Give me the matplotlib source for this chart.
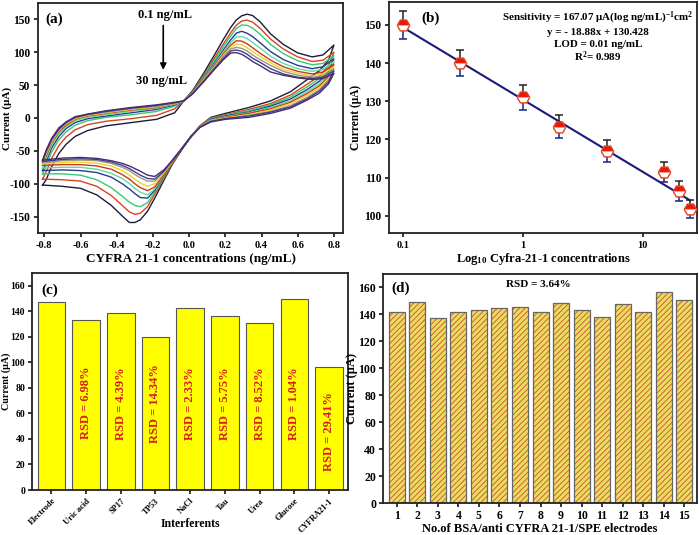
import numpy as np
import matplotlib
matplotlib.use('Agg')
import matplotlib.pyplot as plt
from matplotlib.ticker import FixedLocator, NullLocator, FixedFormatter

plt.rcParams['font.family'] = ['Liberation Serif', 'DejaVu Serif']
plt.rcParams['font.weight'] = 'bold'
plt.rcParams['axes.labelweight'] = 'bold'
plt.rcParams['axes.unicode_minus'] = False
plt.rcParams['mathtext.fontset'] = 'custom'
plt.rcParams['mathtext.rm'] = 'Liberation Serif:bold'
plt.rcParams['mathtext.it'] = 'Liberation Serif:bold:italic'
plt.rcParams['mathtext.bf'] = 'Liberation Serif:bold'
plt.rcParams['hatch.linewidth'] = 0.6

# ---------------- (a) cyclic voltammograms ----------------
EF = [-0.81, -0.79, -0.76, -0.72, -0.68, -0.63, -0.56, -0.46, -0.32, -0.18, -0.08, -0.03,
      0.02, 0.08, 0.14, 0.19, 0.23, 0.26, 0.29, 0.32, 0.35, 0.39, 0.45, 0.52, 0.60, 0.68, 0.74, 0.80]
cv_forward = [
    [-102, -94, -74, -54, -40, -28, -19, -12, -7, -2, 8, 26,
     42, 68, 96, 120, 138, 149, 155.5, 158, 156, 147, 128, 112, 99, 93, 96, 111],
    [-93, -82, -62, -42, -29, -18, -10, -5, -1, 4, 14, 26,
     41, 65, 91, 113, 130, 141, 147.5, 149, 146, 137, 120, 105, 93, 86, 88, 100],
    [-85, -72, -52, -33, -21, -11, -4, 1, 5, 10, 18, 26,
     40, 63, 88, 109, 125, 136, 141.5, 141, 137, 128, 112, 98, 87, 81, 83, 95],
    [-80, -66, -46, -28, -16, -7, -1, 3, 8, 13, 20, 26,
     40, 61, 84, 104, 119, 129, 132, 129, 124, 115, 101, 89, 80, 75, 78, 90],
    [-76, -62, -42, -24, -13, -4, 1, 5, 10, 15, 21, 26,
     39, 60, 82, 101, 115, 123, 124, 121, 115, 107, 94, 83, 75, 71, 74, 86],
    [-72, -58, -39, -21, -11, -2, 3, 7, 12, 16, 22, 26,
     39, 59, 80, 98, 111, 117.5, 117, 113, 107, 99, 88, 78, 71, 67, 70, 82],
    [-70, -55, -37, -19, -9, -1, 4, 8, 13, 17, 22, 26,
     38, 58, 78, 96, 108, 112.5, 111.5, 107, 101, 94, 84, 74, 68, 64, 67, 78],
    [-68, -53, -35, -18, -8, 0, 5, 9, 14, 18, 23, 26,
     38, 57, 77, 94, 105, 107.5, 106, 102, 96, 89, 80, 71, 65, 62, 64, 75],
    [-66, -51, -33, -17, -7, 1, 5.5, 10, 15, 19, 23, 26,
     37, 56, 75, 91, 102, 103.5, 101.5, 97, 91, 85, 75, 67, 62, 60, 62, 72],
    [-64, -49, -31, -15, -6, 2, 6, 11, 16, 20, 24, 26,
     37, 55, 74, 89, 99, 99.5, 97, 92, 86, 80, 70, 65, 61, 58.5, 60, 68],
]
ER = [0.80, 0.77, 0.72, 0.65, 0.56, 0.45, 0.33, 0.20, 0.12, 0.06, 0.01, -0.04, -0.09,
      -0.14, -0.19, -0.23, -0.27, -0.30, -0.33, -0.37, -0.43, -0.51, -0.60, -0.70, -0.81]
cv_reverse = [
    [111, 88, 72, 58, 40, 26, 16, 7, 1, -12, -28, -48, -69, -95, -122, -142, -155, -159, -159, -149, -133, -117, -107, -104, -102],
    [100, 80, 64, 51, 35, 22, 13, 5, 0, -12, -28, -47, -68, -92, -116, -135, -145, -146.5, -143, -133, -118, -104, -96, -94, -93],
    [95, 75, 60, 47, 32, 20, 11, 4, -1, -13, -28, -47, -67, -90, -113, -129, -135, -133, -128, -119, -106, -94, -87, -85, -85],
    [90, 71, 56, 43, 29, 18, 9, 3, -2, -13, -28, -47, -67, -88, -110, -122, -121, -115, -108, -100, -90, -83, -80, -79, -80],
    [86, 67, 52, 40, 26, 16, 8, 2, -3, -13, -28, -46, -66, -87, -108, -117, -113, -107, -100, -92, -84, -78, -75, -75, -76],
    [82, 63, 49, 37, 24, 14, 7, 1, -4, -14, -28, -46, -66, -86, -105, -110.5, -106, -100, -93, -86, -78, -73, -71, -71, -72],
    [78, 60, 46, 34, 22, 12, 5, 0, -4, -14, -28, -46, -65, -84, -100, -104, -99, -93, -87, -80, -73, -69, -67, -68, -70],
    [75, 58, 43, 31, 19, 10, 4, -1, -5, -14, -28, -46, -64, -82, -96, -96, -91, -86, -80, -75, -69, -65, -64, -65, -68],
    [72, 55, 41, 29, 17, 9, 3, -1, -5, -14, -28, -46, -63, -81, -93, -92, -87, -82, -77, -72, -67, -63, -62, -63, -66],
    [68, 52, 38, 27, 15, 7, 1, -2, -6, -14, -29, -47, -64, -79, -89, -87, -81, -77, -73, -69, -65, -61.5, -60, -61, -64],
]
cv_colors = ['#1c1c3c', '#d6451e', '#35c977', '#2b3a8c', '#62dd98',
             '#c8391c', '#f3d12a', '#9c9a7c', '#3d3d9a', '#4b2b68']

# ---------------- (b) calibration ----------------
conc = [0.1, 0.3, 1, 2, 5, 15, 20, 25]
peak_current = [150, 140, 131, 123.3, 117, 111.5, 106.5, 101.8]
peak_err = [3.6, 3.4, 3.2, 3.0, 2.9, 2.7, 2.6, 2.3]
fit_slope, fit_intercept = -18.88, 130.428

# ---------------- (c) interferents ----------------
interferents = ['Electrode', 'Uric acid', 'SP17', 'TP53', 'NaCl', 'Tau', 'Urea', 'Glucose', 'CYFRA21-1']
interf_current = [147.5, 133.5, 138.5, 120, 142.5, 136, 130.5, 149.5, 96.5]
interf_rsd = [None, '6.98', '4.39', '14.34', '2.33', '5.75', '8.52', '1.04', '29.41']

# ---------------- (d) reproducibility ----------------
electrodes = list(range(1, 16))
electrode_current = [142, 149.5, 137, 142, 143, 145, 145.5, 141.5, 148.5, 143.5, 138, 147.5, 141.5, 157, 151]

W, H = 699, 535
fig = plt.figure(figsize=(W / 100, H / 100), dpi=100)

def rect(l, t, r, b):
    return [l / W, 1 - b / H, (r - l) / W, (b - t) / H]

def style(ax, xfs=8, yfs=8, pad=2.5):
    for s in ax.spines.values():
        s.set_linewidth(1.3)
        s.set_color('#222222')
    ax.tick_params(direction='out', length=3, width=1.1, pad=pad)
    ax.tick_params(axis='x', labelsize=xfs)
    ax.tick_params(axis='y', labelsize=yfs)
    for lab in ax.get_xticklabels() + ax.get_yticklabels():
        lab.set_fontweight('bold')

# ---- (a)
axa = fig.add_axes(rect(38, 3, 343, 233))
for i in range(len(cv_forward)):
    axa.plot(EF + ER, cv_forward[i] + cv_reverse[i], color=cv_colors[i], lw=1.0)
axa.set_xlim(-0.835, 0.85)
axa.set_ylim(-175, 175)
axa.set_xticks([-0.8, -0.6, -0.4, -0.2, 0.0, 0.2, 0.4, 0.6, 0.8])
axa.set_xticklabels(['-0.8', '-0.6', '-0.4', '-0.2', '0.0', '0.2', '0.4', '0.6', '0.8'])
axa.set_yticks([-150, -100, -50, 0, 50, 100, 150])
axa.set_xlabel('CYFRA 21-1 concentrations (ng/mL)', fontsize=9.5)
axa.set_ylabel('Current (μA)', fontsize=8)
axa.xaxis.set_label_coords(0.5, -0.085)
axa.yaxis.set_label_coords(-0.085, 0.5)
style(axa, 7.5, 8.3)
axa.text(-0.748, 151, '(a)', fontsize=11, fontweight='bold', ha='center', va='center')
axa.text(-0.135, 156, '0.1 ng/mL', fontsize=9, fontweight='bold', ha='center', va='center')
axa.text(-0.152, 57, '30 ng/mL', fontsize=9, fontweight='bold', ha='center', va='center')
axa.annotate('', xy=(-0.143, 69), xytext=(-0.143, 145),
             arrowprops=dict(arrowstyle='-|>', color='black', lw=1.2, mutation_scale=9))

# ---- (b)
axb = fig.add_axes(rect(389, 2, 697, 233))
axb.set_xscale('log')
fx = np.array([conc[0], conc[-1]])
axb.plot(fx, fit_slope * np.log10(fx) + fit_intercept, color='#1a1a7a', lw=1.5, zorder=2)
zeros = np.zeros(len(conc))
axb.errorbar(conc, peak_current, yerr=[zeros, peak_err], fmt='none', ecolor='#222222',
             capsize=3, elinewidth=1.1, capthick=1.1, zorder=3)
axb.errorbar(conc, peak_current, yerr=[peak_err, zeros], fmt='none', ecolor='#1a237e',
             capsize=3, elinewidth=1.1, capthick=1.1, zorder=3)
axb.plot(conc, peak_current, linestyle='none', marker='H', ms=9, fillstyle='top',
         mfc='#e8170a', mfcalt='white', mec='#e8401c', mew=1.0, zorder=4)
axb.set_xlim(0.076, 28.5)
axb.set_ylim(95.5, 156)
axb.xaxis.set_major_locator(FixedLocator([0.1, 1, 10]))
axb.xaxis.set_major_formatter(FixedFormatter(['0.1', '1', '10']))
axb.xaxis.set_minor_locator(NullLocator())
axb.set_yticks([100, 110, 120, 130, 140, 150])
axb.set_xlabel('Log$_{10}$ Cyfra-21-1 concentrations', fontsize=9)
axb.set_ylabel('Current (μA)', fontsize=8.3)
axb.xaxis.set_label_coords(0.5, -0.08)
axb.yaxis.set_label_coords(-0.088, 0.5)
style(axb, 7.5, 8.3)
axb.text(0.135, 0.931, '(b)', transform=axb.transAxes, fontsize=11, fontweight='bold',
         ha='center', va='center')
info = ['Sensitivity = 167.07 μA(log ng/mL)$^{-1}$cm$^{2}$', 'y = - 18.88x + 130.428',
        'LOD = 0.01 ng/mL', 'R$^{2}$= 0.989']
for txt, yy in zip(info, [0.931, 0.870, 0.818, 0.762]):
    axb.text(0.679, yy, txt, transform=axb.transAxes, fontsize=7.9, fontweight='bold',
             ha='center', va='center')

# ---- (c)
axc = fig.add_axes(rect(32, 273, 348, 490))
xc = np.arange(len(interferents))
axc.bar(xc, interf_current, width=0.79, color='#ffff00', edgecolor='#555555', lw=0.8)
for x, r in zip(xc, interf_rsd):
    if r is None:
        continue
    yy = 46 if x == len(xc) - 1 else 68
    axc.text(x, yy, f'RSD = {r}%', rotation=90, color='#d61e1e', fontsize=9,
             fontweight='bold', ha='center', va='center')
axc.set_xlim(-0.56, 8.55)
axc.set_ylim(0, 170)
axc.set_yticks(range(0, 161, 20))
axc.set_xticks(xc)
axc.set_xticklabels(interferents, rotation=45, ha='right', rotation_mode='anchor')
axc.set_xlabel('Interferents', fontsize=8.5)
axc.set_ylabel('Current (μA)', fontsize=7.2)
axc.xaxis.set_label_coords(0.5, -0.13)
axc.yaxis.set_label_coords(-0.068, 0.5)
style(axc, 6, 7.0, pad=2)
axc.text(0.057, 0.922, '(c)', transform=axc.transAxes, fontsize=11, fontweight='bold',
         ha='center', va='center')

# ---- (d)
axd = fig.add_axes(rect(383, 274, 697, 503))
axd.bar(electrodes, electrode_current, width=0.78, color='#ecdc5e', edgecolor='#c4503a',
        lw=0, hatch='//////')
axd.bar(electrodes, electrode_current, width=0.78, fill=False, edgecolor='#666666', lw=0.9)
axd.set_xlim(0.33, 15.62)
axd.set_ylim(0, 170)
axd.set_xticks(electrodes)
axd.set_yticks(range(0, 161, 20))
axd.set_xlabel('No.of BSA/anti CYFRA 21-1/SPE electrodes', fontsize=9)
axd.set_ylabel('Current (μA)', fontsize=9)
axd.xaxis.set_label_coords(0.5, -0.086)
axd.yaxis.set_label_coords(-0.08, 0.5)
style(axd, 8.5, 8.5, pad=2)
axd.text(0.057, 0.939, '(d)', transform=axd.transAxes, fontsize=11, fontweight='bold',
         ha='center', va='center')
axd.text(0.495, 0.952, 'RSD = 3.64%', transform=axd.transAxes, fontsize=8, fontweight='bold',
         ha='center', va='center')

fig.savefig('out.png', dpi=100)
